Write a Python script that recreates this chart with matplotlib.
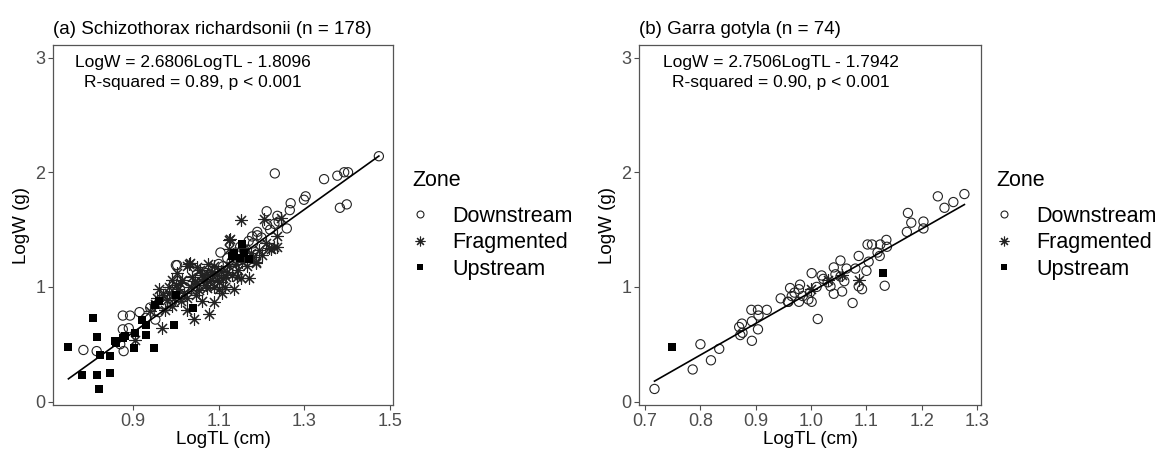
"""Length-weight regressions for two fish species by zone."""

import matplotlib

matplotlib.use("Agg")

import matplotlib.pyplot as plt
import numpy as np
from matplotlib.lines import Line2D

plt.rcParams["font.family"] = ["Liberation Sans", "DejaVu Sans"]

# ---- data: (a) Schizothorax richardsonii ----
a_down_x = [0.784, 0.815, 0.876, 0.893, 0.876, 0.878, 0.870, 0.940, 0.952, 1.000,
            1.104, 1.231, 1.346, 1.377, 1.393, 1.402, 1.383, 1.399, 1.303, 1.299,
            1.268, 1.266, 1.259, 1.212, 1.237, 1.213, 1.190, 1.178, 1.240, 1.003,
            1.474, 0.960, 0.970, 0.980, 0.990, 1.000, 1.010, 1.020, 1.030, 1.040,
            1.050, 1.060, 1.070, 1.080, 1.090, 1.100, 1.110, 1.120, 1.130, 1.140,
            1.150, 1.160, 1.170, 1.180, 1.190, 1.200, 1.220, 1.230, 0.930, 0.915,
            0.890]
a_down_y = [0.45, 0.44, 0.75, 0.75, 0.63, 0.44, 0.50, 0.82, 0.715, 1.19,
            1.30, 1.99, 1.94, 1.97, 2.00, 2.00, 1.69, 1.72, 1.79, 1.76,
            1.73, 1.67, 1.51, 1.66, 1.62, 1.54, 1.48, 1.44, 1.57, 1.19,
            2.14, 0.78, 0.85, 0.92, 0.86, 0.95, 0.93, 1.00, 1.05, 0.98,
            1.08, 1.02, 1.12, 1.10, 1.15, 1.20, 1.18, 1.25, 1.22, 1.30,
            1.35, 1.32, 1.40, 1.38, 1.45, 1.43, 1.50, 1.55, 0.73, 0.78,
            0.64]
a_frag_x = [1.151, 1.206, 1.126, 1.235, 1.217, 1.235, 1.245, 1.032, 1.186, 1.030,
            0.960, 0.967, 0.905, 1.043, 1.077, 1.026, 1.088, 1.135, 1.151, 1.108,
            1.026, 0.995, 1.124, 1.186, 1.221, 1.229, 1.159, 1.123, 1.050, 1.073,
            1.006, 0.983, 0.952, 0.940, 1.057, 1.088, 1.116, 1.026, 1.003, 1.010,
            0.979, 0.991, 1.038, 1.073, 1.096, 1.143, 1.170, 1.167, 1.159, 0.970,
            0.985, 1.000, 1.015, 1.020, 1.035, 1.045, 1.055, 1.060, 1.065, 1.070,
            1.080, 1.085, 1.090, 1.095, 1.100, 1.105, 1.110, 1.120, 1.125, 1.130,
            1.140, 1.145, 1.155, 1.165, 1.175, 1.180, 1.195, 1.200, 1.210, 0.955,
            0.975, 0.990, 1.012, 1.048, 1.062, 1.100, 1.115, 1.050, 1.075]
a_frag_y = [1.58, 1.59, 1.42, 1.44, 1.34, 1.35, 1.60, 1.21, 1.21, 1.20,
            0.98, 0.64, 0.54, 0.72, 0.76, 0.80, 0.87, 0.98, 1.08, 0.95,
            0.90, 0.90, 1.33, 1.22, 1.33, 1.35, 1.34, 1.41, 1.03, 1.11,
            0.98, 0.95, 0.85, 0.79, 1.15, 1.18, 1.09, 1.18, 1.12, 1.03,
            0.89, 0.83, 1.09, 0.99, 1.06, 1.09, 1.08, 1.18, 1.27, 0.93,
            1.00, 1.02, 1.06, 0.95, 1.00, 1.05, 0.97, 1.10, 1.07, 1.02,
            1.05, 1.13, 1.00, 1.10, 1.04, 1.14, 1.08, 1.13, 1.18, 1.10,
            1.20, 1.15, 1.22, 1.25, 1.30, 1.26, 1.32, 1.28, 1.38, 0.90,
            0.80, 1.06, 0.88, 0.93, 0.88, 0.98, 1.00, 1.17, 1.20]
a_up_x = [0.749, 0.806, 0.815, 0.780, 0.815, 0.821, 0.846, 0.846, 0.823, 0.858,
          0.861, 0.876, 0.905, 0.903, 0.921, 0.931, 0.948, 0.931, 0.952, 0.996,
          1.041, 1.131, 1.150, 1.160, 1.170, 0.880, 0.960, 1.000, 1.155, 1.135]
a_up_y = [0.48, 0.73, 0.56, 0.235, 0.235, 0.11, 0.25, 0.395, 0.41, 0.525,
          0.51, 0.555, 0.60, 0.47, 0.715, 0.58, 0.47, 0.67, 0.845, 0.67,
          0.82, 1.27, 1.25, 1.30, 1.24, 0.57, 0.88, 0.93, 1.37, 1.30]

# ---- data: (b) Garra gotyla ----
b_down_x = [0.717, 0.786, 0.800, 0.819, 0.834, 0.875, 0.876, 0.872, 0.893, 0.892,
            0.904, 0.904, 0.893, 0.920, 0.959, 0.962, 0.980, 0.978, 0.978, 0.995,
            1.001, 1.001, 1.012, 0.965, 0.985, 0.958, 1.229, 1.277, 1.257, 1.241,
            1.175, 1.181, 1.203, 1.203, 1.173, 1.102, 1.110, 1.136, 1.137, 1.125,
            1.086, 1.104, 1.124, 1.053, 1.041, 1.064, 1.080, 1.100, 1.019, 1.044,
            1.053, 1.022, 1.035, 1.056, 1.041, 1.086, 1.092, 1.133, 1.075, 0.998,
            1.010, 1.030, 0.945, 0.970, 0.870, 0.905, 1.120, 1.060]
b_down_y = [0.11, 0.28, 0.50, 0.36, 0.46, 0.68, 0.60, 0.58, 0.70, 0.80,
            0.80, 0.63, 0.53, 0.80, 0.87, 0.99, 1.02, 0.98, 0.87, 0.89,
            0.87, 1.12, 0.72, 0.92, 0.92, 0.87, 1.79, 1.81, 1.74, 1.69,
            1.645, 1.56, 1.57, 1.51, 1.48, 1.37, 1.37, 1.41, 1.35, 1.37,
            1.27, 1.22, 1.27, 1.23, 1.17, 1.16, 1.16, 1.14, 1.10, 1.11,
            1.09, 1.07, 1.005, 0.96, 0.94, 1.005, 0.98, 1.01, 0.86, 0.95,
            1.00, 1.04, 0.90, 0.95, 0.65, 0.75, 1.30, 1.05]
b_frag_x = [1.086, 1.030, 1.056, 1.000]
b_frag_y = [1.06, 1.06, 1.10, 0.98]
b_up_x = [0.748, 1.130]
b_up_y = [0.48, 1.12]

zones = ["Downstream", "Fragmented", "Upstream"]
panels = [
    {
        "title": "(a) Schizothorax richardsonii (n = 178)",
        "slope": 2.6806, "intercept": -1.8096, "r2": "0.89",
        "x": (a_down_x, a_frag_x, a_up_x), "y": (a_down_y, a_frag_y, a_up_y),
        "xticks": [0.9, 1.1, 1.3, 1.5], "xlim": (0.713, 1.507), "text_x": 1.04,
    },
    {
        "title": "(b) Garra gotyla (n = 74)",
        "slope": 2.7506, "intercept": -1.7942, "r2": "0.90",
        "x": (b_down_x, b_frag_x, b_up_x), "y": (b_down_y, b_frag_y, b_up_y),
        "xticks": [0.7, 0.8, 0.9, 1.0, 1.1, 1.2, 1.3], "xlim": (0.689, 1.307), "text_x": 0.945,
    },
]

W, H = 1167, 454
fig = plt.figure(figsize=(W / 100, H / 100), dpi=100)

ink = "#222222"
grey = "#4d4d4d"
styles = [
    dict(marker="o", s=44, facecolors="none", edgecolors=ink, linewidths=0.8),
    dict(marker=(8, 2, 0), s=75, c=ink, linewidths=0.8),
    dict(marker="s", s=30, c="black", linewidths=0),
]

for i, p in enumerate(panels):
    left = 53 if i == 0 else 639
    right = 393 if i == 0 else 981
    ax = fig.add_axes([left / W, 1 - 405 / H, (right - left) / W, 360 / H])
    for xs, ys, st in zip(p["x"], p["y"], styles):
        ax.scatter(xs, ys, zorder=3, **st)

    allx = np.concatenate([np.asarray(v) for v in p["x"]])
    lx = np.array([allx.min(), allx.max()])
    ax.plot(lx, p["slope"] * lx + p["intercept"], color="black", lw=1.2, zorder=4)

    sign = "-" if p["intercept"] < 0 else "+"
    ax.text(p["text_x"], 2.96, f"LogW = {p['slope']:.4f}LogTL {sign} {abs(p['intercept']):.4f}",
            ha="center", va="center", fontsize=12.5, color="black")
    ax.text(p["text_x"], 2.78, f"R-squared = {p['r2']}, p < 0.001",
            ha="center", va="center", fontsize=12.5, color="black")

    ax.set_xlim(*p["xlim"])
    ax.set_ylim(-0.03, 3.11)
    ax.set_xticks(p["xticks"])
    ax.set_xticklabels([f"{t:.1f}" for t in p["xticks"]])
    ax.set_yticks([0, 1, 2, 3])
    ax.tick_params(length=3.5, width=0.8, color=grey, labelcolor=grey, labelsize=13, pad=2)
    for sp in ax.spines.values():
        sp.set_color("#555555")
        sp.set_linewidth(0.9)
    ax.set_xlabel("LogTL (cm)", fontsize=13.5, labelpad=1)
    ax.set_ylabel("LogW (g)", fontsize=13.5, labelpad=4)
    ax.set_title(p["title"], loc="left", fontsize=13.5, pad=8)

    # legend: title placed separately so the gap below it matches the reference
    lx0 = 412 if i == 0 else 996
    fig.text(lx0 / W, 1 - 181 / H, "Zone", fontsize=15.5, va="center", ha="left")
    handles = [
        Line2D([], [], ls="none", marker="o", ms=5, mfc="none", mec=ink, mew=0.8),
        Line2D([], [], ls="none", marker=(8, 2, 0), ms=7, mec=ink, mew=0.8),
        Line2D([], [], ls="none", marker="s", ms=5, mfc="black", mec="black", mew=0),
    ]
    fig.legend(handles, zones, loc="upper left",
               bbox_to_anchor=((lx0 - 3) / W, 1 - 206 / H), frameon=False,
               fontsize=15.5, handlelength=1.0, handletextpad=1.0,
               labelspacing=0.25, borderaxespad=0, borderpad=0)

fig.savefig("out.png", dpi=100)
plt.close(fig)
